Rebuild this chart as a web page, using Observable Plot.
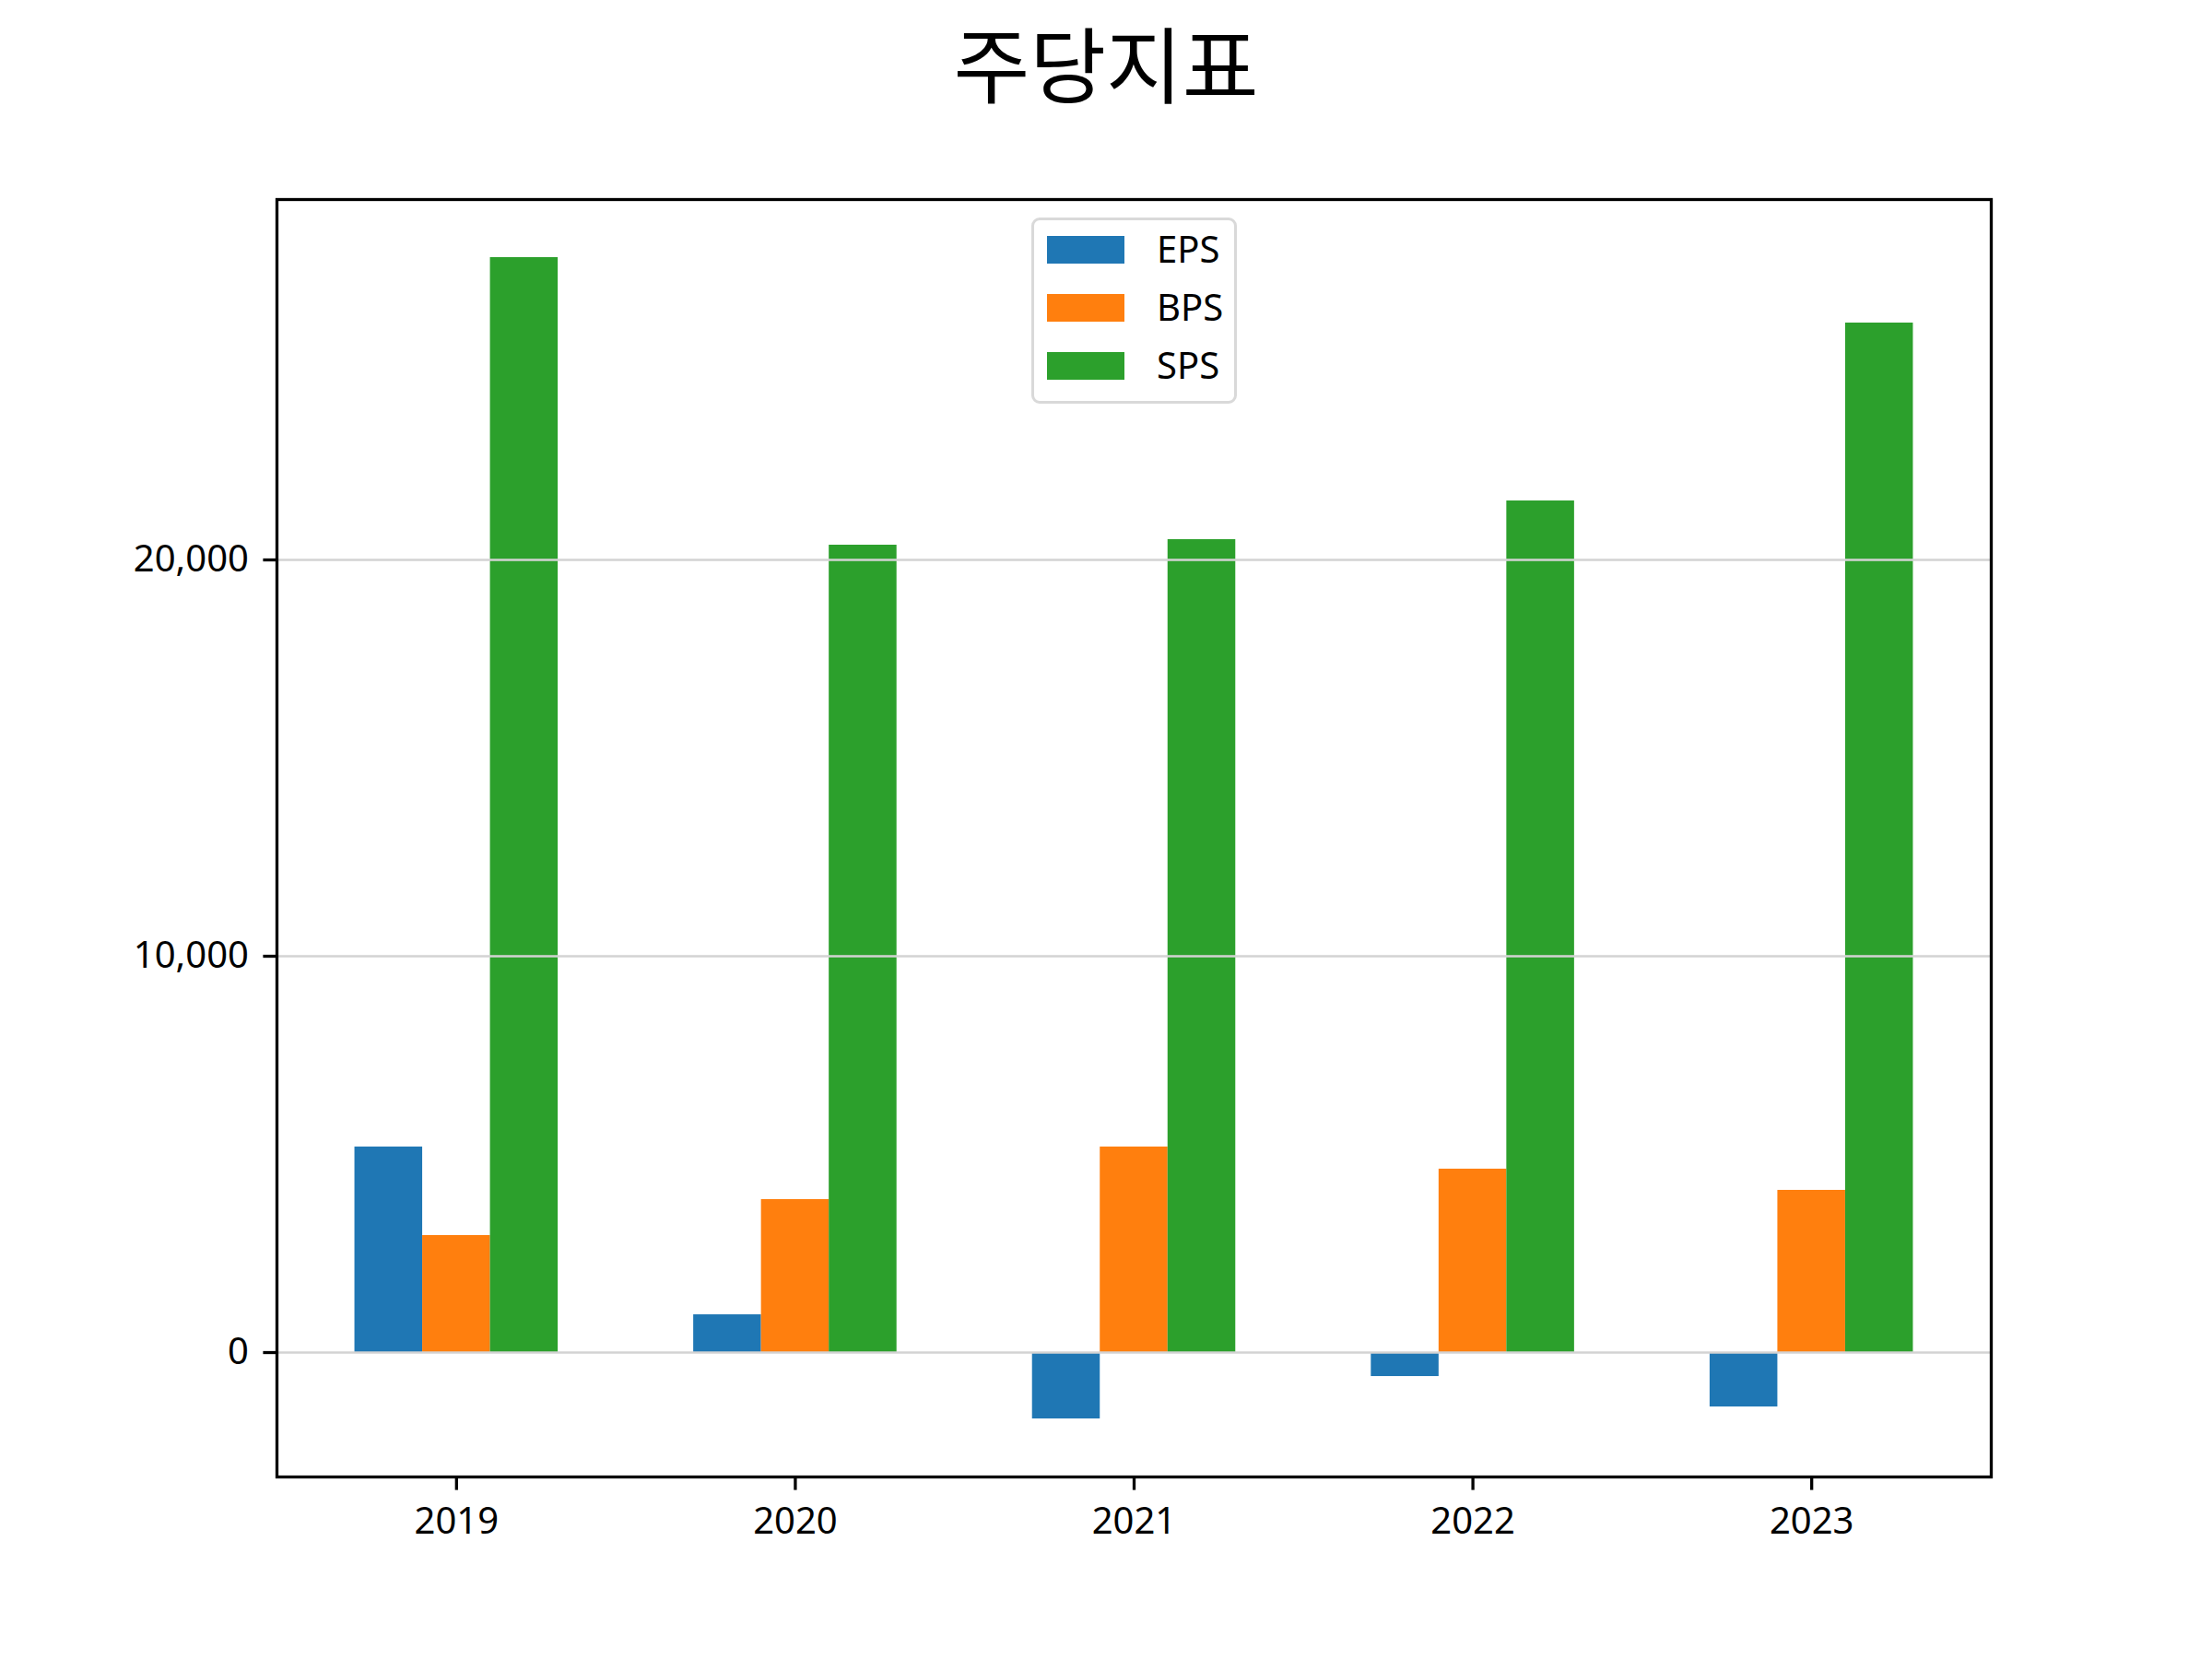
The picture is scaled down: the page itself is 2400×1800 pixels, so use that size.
<!DOCTYPE html>
<html>
<head>
<meta charset="utf-8">
<script src="https://cdn.jsdelivr.net/npm/d3@7"></script>
<script src="https://cdn.jsdelivr.net/npm/@observablehq/plot@0.6"></script>
<style>
  html, body { margin: 0; padding: 0; background: white; }
  #wrap { position: relative; width: 2400px; height: 1800px; background: white; font-family: "Noto Sans", "Noto Sans CJK KR", sans-serif; }
  #title { position: absolute; left: 0; top: 21px; width: 2400px; text-align: center; font-family: "Noto Sans CJK KR", sans-serif; font-size: 90px; line-height: 1; color: black; }
  #chart { position: absolute; left: 0; top: 150px; }
  #chart [aria-label$="axis tick"] { stroke-width: 3.3px; }
  #legend { position: absolute; left: 1119px; top: 236px; width: 217px; height: 196px; border: 3px solid #d9d9d9; border-radius: 9px; background: rgba(255,255,255,0.8); }
  .sw { position: absolute; width: 84px; height: 30px; left: 14px; }
  .lt { position: absolute; left: 133px; font-size: 40px; line-height: 1; color: black; }
</style>
</head>
<body>
<div id="wrap">
  <div id="title">주당지표</div>
  <div id="chart"></div>
  <div id="legend"></div>
</div>
<script>
const years = ["2019", "2020", "2021", "2022", "2023"];
const series = ["EPS", "BPS", "SPS"];
const colors = ["#1f77b4", "#ff7f0e", "#2ca02c"];
const EPS = [5186, 953, -1674, -605, -1372];
const BPS = [2953, 3860, 5186, 4628, 4093];
const SPS = [27628, 20372, 20512, 21488, 25977];
const yTicks = [0, 10000, 20000];

const values = {EPS, BPS, SPS};
const barWidth = 0.2;
const data = years.flatMap((year, i) => series.map((s, j) => ({year, i, j, series: s, value: values[s][i]})));

const all = data.map(d => d.value).concat([0]);
const ymin = d3.min(all), ymax = d3.max(all);
const ypad = (ymax - ymin) * 0.05;
const xmin = -1.5 * barWidth, xmax = years.length - 1 + 1.5 * barWidth;
const xpad = (xmax - xmin) * 0.05;

const chart = Plot.plot({
  width: 2400,
  height: 1650,
  marginTop: 66,
  marginBottom: 198,
  marginLeft: 300,
  marginRight: 240,
  style: {fontFamily: '"Noto Sans", "Noto Sans CJK KR", sans-serif', fontSize: "40px", background: "white", color: "black"},
  x: {type: "linear", domain: [xmin - xpad, xmax + xpad], ticks: years.map((y, i) => i), tickFormat: i => years[i], tickSize: 14.6, tickPadding: 18, label: null},
  y: {domain: [ymin - ypad, ymax + ypad], ticks: yTicks, tickFormat: d3.format(","), tickSize: 14.6, tickPadding: 16, label: null},
  color: {domain: series, range: colors},
  marks: [
    Plot.rectY(data, {
      x1: d => d.i + (d.j - 1) * barWidth - barWidth / 2,
      x2: d => d.i + (d.j - 1) * barWidth + barWidth / 2,
      y1: d => 0,
      y2: "value",
      fill: "series"
    }),
    Plot.ruleY(yTicks, {stroke: "#d3d3d3", strokeWidth: 2.5}),
    Plot.frame({stroke: "black", strokeWidth: 3.3})
  ]
});
document.getElementById("chart").appendChild(chart);

const legend = d3.select("#legend");
series.forEach((s, k) => {
  legend.append("div").attr("class", "sw").style("top", (17 + k * 63) + "px").style("background", colors[k]);
  legend.append("div").attr("class", "lt").style("top", (11 + k * 63) + "px").text(s);
});
</script>
</body>
</html>
